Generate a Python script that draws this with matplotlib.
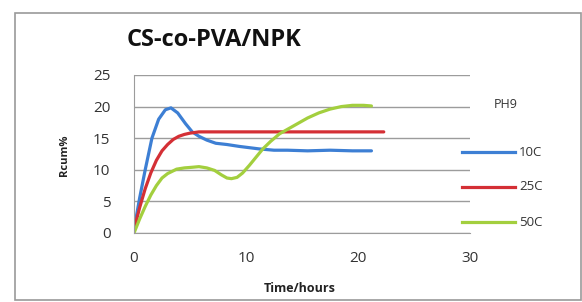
import matplotlib
matplotlib.use("Agg")
import matplotlib.pyplot as plt
from matplotlib.patches import Rectangle

plt.rcParams['font.family'] = ['Open Sans', 'DejaVu Sans']

title = "CS-co-PVA/NPK"
xlabel = "Time/hours"
ylabel = "Rcum%"
legend_title = "PH9"
series_names = ["10C", "25C", "50C"]
colors = ["#3d7fd4", "#d42f35", "#a3cf3e"]

x_10c = [0, 0.5, 1.0, 1.6, 2.2, 2.8, 3.3, 3.9, 4.6, 5.2, 5.8, 6.5, 7.3, 8.3, 9.4, 10.3, 11.2, 12.5, 13.7, 15.5, 17.5, 19.5, 21.2]
y_10c = [0.5, 5.5, 10.0, 15.0, 18.0, 19.5, 19.8, 19.0, 17.3, 16.0, 15.3, 14.7, 14.2, 14.0, 13.7, 13.5, 13.3, 13.1, 13.1, 13.0, 13.1, 13.0, 13.0]

x_25c = [0, 0.5, 1.0, 1.5, 2.0, 2.5, 3.0, 3.5, 4.0, 4.5, 5.0, 5.8, 7, 10, 14, 18, 22.3]
y_25c = [0.5, 4.0, 7.0, 9.5, 11.5, 13.0, 14.0, 14.8, 15.3, 15.6, 15.8, 16.0, 16.0, 16.0, 16.0, 16.0, 16.0]

x_50c = [0, 0.5, 1.0, 1.5, 2.0, 2.5, 3.0, 3.8, 4.5, 5.2, 5.8, 6.5, 7.2, 7.8, 8.3, 8.7, 9.2, 9.7, 10.3, 10.9, 11.5, 12.2, 13.0, 13.7, 14.5, 15.5, 16.5, 17.5, 18.5, 19.5, 20.5, 21.2]
y_50c = [0.0, 2.2, 4.2, 6.0, 7.5, 8.7, 9.4, 10.1, 10.3, 10.4, 10.5, 10.3, 9.9, 9.2, 8.7, 8.6, 8.8, 9.5, 10.7, 12.0, 13.3, 14.5, 15.7, 16.4, 17.2, 18.2, 19.0, 19.6, 20.0, 20.2, 20.2, 20.1]

xticks = [0, 10, 20, 30]
yticks = [0, 5, 10, 15, 20, 25]

W, H = 582, 302
fig = plt.figure(figsize=(W / 100, H / 100), dpi=100)
fig.patch.set_facecolor("white")

# outer chart frame
fig.add_artist(Rectangle((15 / W, 1 - 300 / H), (581 - 15) / W, (300 - 13) / H,
                         transform=fig.transFigure, fill=False, edgecolor="#9a9a9a", lw=1.2))

left, right, top, bottom = 134, 470, 75, 233
ax = fig.add_axes([left / W, 1 - bottom / H, (right - left) / W, (bottom - top) / H])

for xs, ys, c in zip([x_10c, x_25c, x_50c], [y_10c, y_25c, y_50c], colors):
    ax.plot(xs, ys, color=c, lw=2.3, solid_capstyle="round", solid_joinstyle="round")

ax.set_xlim(0, 30)
ax.set_ylim(0, 25)
ax.set_xticks(xticks)
ax.set_yticks(yticks)
ax.yaxis.grid(True, color="#9c9c9c", lw=1.0)
ax.set_axisbelow(True)
for s in ["top", "right"]:
    ax.spines[s].set_visible(False)
ax.spines["left"].set_color("#9c9c9c")
ax.spines["bottom"].set_color("#9c9c9c")
ax.tick_params(length=0, labelsize=11, colors="#333333", pad=13)
ax.tick_params(axis="y", pad=17)
for lab in ax.get_xticklabels() + ax.get_yticklabels():
    lab.set_color("#333333")

fig.text(127 / W, 1 - 40 / H, title, fontsize=17, fontweight="bold", ha="left", va="center", color="#111111")
fig.text(300 / W, 1 - 288 / H, xlabel, fontsize=9, fontweight="bold", ha="center", va="center", color="#222222")
fig.text(64 / W, 1 - 155 / H, ylabel, fontsize=8, fontweight="bold", ha="center", va="center", rotation=90, color="#222222")

# legend
fig.text(506 / W, 1 - 104 / H, legend_title, fontsize=9, ha="center", va="center", color="#333333")
leg_y = [152, 187, 222]
for name, c, yy in zip(series_names, colors, leg_y):
    fig.add_artist(plt.Line2D([462 / W, 515 / W], [1 - yy / H, 1 - yy / H], transform=fig.transFigure,
                              color=c, lw=2.3))
    fig.text(519 / W, 1 - yy / H, name, fontsize=9.5, ha="left", va="center", color="#333333")

fig.savefig("out.png", dpi=100)
